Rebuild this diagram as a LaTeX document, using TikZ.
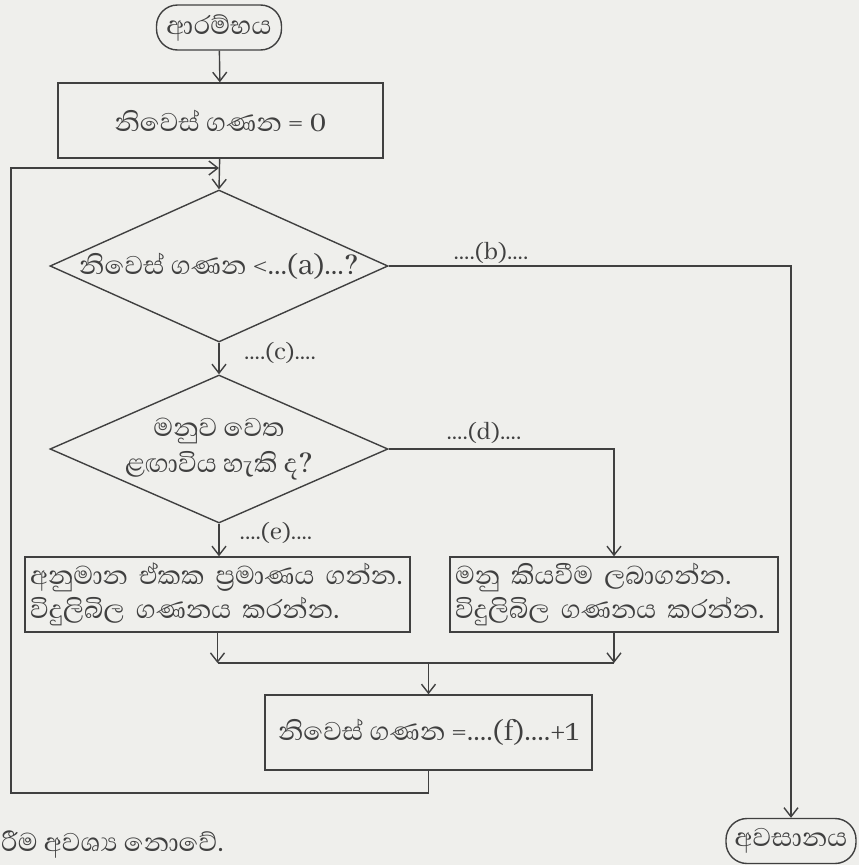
\documentclass[tikz,border=0pt]{standalone}
\usepackage{fontspec}
\setmainfont{Abhaya Libre}[Script=Sinhala]
\usetikzlibrary{shapes.geometric,arrows.meta}
\definecolor{ink}{HTML}{404040}
\definecolor{paper}{HTML}{EFEFEC}
\begin{document}
\begin{tikzpicture}[x=1pt,y=-1pt,
  every node/.style={text=ink, font=\fontsize{33}{34}\selectfont},
  line/.style={draw=ink, line width=1.4pt},
  arr/.style={line, -{Straight Barb[length=9pt,width=14pt]}},
  term/.style={line, rectangle, rounded corners=21pt, minimum height=45pt, inner sep=0pt},
  proc/.style={line, rectangle, inner sep=0pt, align=center},
  boxl/.style={line, rectangle, inner ysep=0pt, inner xsep=5pt, align=left, minimum height=75pt},
  dec/.style={line, diamond, aspect=2.22, inner sep=0pt},
  lab/.style={font=\fontsize{27}{30}\selectfont, inner sep=0pt}]
\fill[paper] (0,0) rectangle (859,865);
\useasboundingbox (0,0) rectangle (859,865);

\node[term, minimum width=125pt] (start) at (219,27.5) {ආරම්භය};
\node[proc, minimum width=325pt, minimum height=75pt] (init) at (220.5,120.5) {නිවෙස් ගණන = 0};
\node[dec, minimum width=338pt, minimum height=152pt] (d1) at (219,266) {};
\node[inner sep=0pt] (d1t) at (d1.center) {නිවෙස් ගණන <...(a)...?};
\node[dec, minimum width=338pt, minimum height=148pt] (d2) at (219,449) {};
\node[inner sep=0pt, align=center, font=\fontsize{33}{36}\selectfont] (d2t) at (d2.center) {මනුව වෙත\\ළඟාවිය හැකි ද?};
\node[boxl, text width=375pt] (lbox) at (217.5,594.5) {අනුමාන ඒකක ප්^^^^200dරමාණය ගන්න.\\විදුලිබිල ගණනය කරන්න.};
\node[boxl, text width=318pt] (rbox) at (614,594.5) {මනු කියවීම ලබාගන්න.\\විදුලිබිල ගණනය කරන්න.};
\node[proc, minimum width=327pt, minimum height=75pt] (f) at (428.5,732.5) {නිවෙස් ගණන =....(f)....+1};
\node[term, minimum width=130pt] (end) at (791,841) {අවසානය};

\node[lab] (lb) at (491,253) {....(b)....};
\node[lab] (lc) at (280,353) {....(c)....};
\node[lab] (ld) at (484,433) {....(d)....};
\node[lab] (le) at (276,533) {....(e)....};
\node[anchor=base west, inner sep=0pt] (note) at (1,851) {රීම අවශ්^^^^200dය නොවේ.};

\coordinate (join) at (219,168);
\coordinate (loopB) at (11,793);
\coordinate (mL) at (217.5,663);
\coordinate (mR) at (614,663);
\coordinate (mC) at (428.5,663);

\draw[arr] (start) -- (init);
\draw[arr] (init) -- (d1.north);
\draw[arr] (f.south) |- (loopB) |- (join);
\draw[arr] (d1.east) -| (end.north);
\draw[arr] (d1.south) -- (d2.north);
\draw[arr] (d2.east) -| (rbox.north);
\draw[arr] (d2.south) -- (d2.south |- lbox.north);
\draw[arr] (lbox.south) -- (mL);
\draw[arr] (rbox.south) -- (mR);
\draw[line] (mL) -- (mR);
\draw[arr] (mC) -- (f.north);
\end{tikzpicture}
\end{document}
